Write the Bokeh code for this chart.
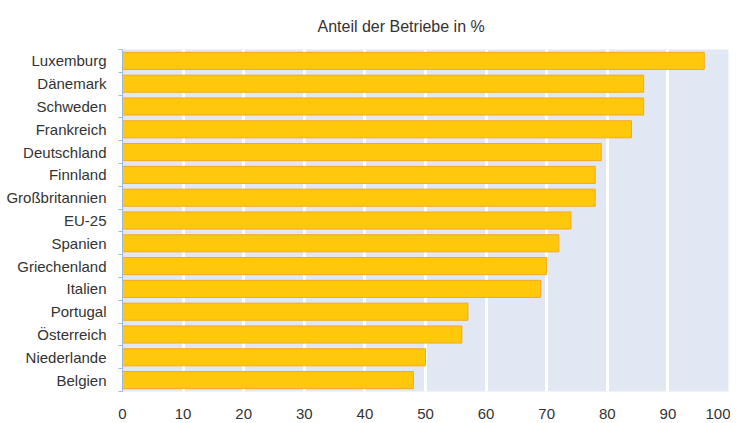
from bokeh.plotting import figure
from bokeh.models import Range1d, FixedTicker, Title
from bokeh.embed import file_html
from bokeh.resources import INLINE

categories = ["Luxemburg", "Dänemark", "Schweden", "Frankreich", "Deutschland",
              "Finnland", "Großbritannien", "EU-25", "Spanien", "Griechenland",
              "Italien", "Portugal", "Österreich", "Niederlande", "Belgien"]
values = [96, 86, 86, 84, 79, 78, 78, 74, 72, 70, 69, 57, 56, 50, 48]
x_ticks = [0, 10, 20, 30, 40, 50, 60, 70, 80, 90, 100]
title_text = "Anteil der Betriebe in %"

n = len(categories)
ys = [n - i - 0.5 for i in range(n)]
bounds = list(range(n + 1))

FONT = "Liberation Sans"
TXT = "#333333"

p = figure(width=730, height=423, output_backend="svg", toolbar_location=None,
           x_range=Range1d(0, 100), y_range=Range1d(0, n),
           min_border_left=122, min_border_right=2, min_border_top=48,
           min_border_bottom=32)
p.title = Title(text=title_text, align="left", offset=195, standoff=30,
                text_font=FONT, text_font_size="16px", text_font_style="normal",
                text_color=TXT)
p.background_fill_color = "#E1E8F4"
p.border_fill_color = "white"
p.outline_line_color = None

p.hbar(y=ys, right=values, left=0, height=0.75,
       fill_color="#FFC80B", line_color="#F6A623", line_width=1)

p.xgrid.ticker = FixedTicker(ticks=x_ticks)
p.xgrid.grid_line_color = "white"
p.xgrid.grid_line_width = 3
p.ygrid.grid_line_color = None

p.xaxis.ticker = FixedTicker(ticks=x_ticks)
p.xaxis.axis_line_color = None
p.xaxis.major_tick_line_color = None
p.xaxis.major_tick_out = 0
p.xaxis.minor_tick_line_color = None
p.xaxis.major_label_standoff = 17
p.xaxis.major_label_text_font = FONT
p.xaxis.major_label_text_font_size = "15px"
p.xaxis.major_label_text_color = TXT

p.yaxis.ticker = FixedTicker(ticks=ys, minor_ticks=bounds)
p.yaxis.major_label_overrides = {y: c for y, c in zip(ys, categories)}
p.yaxis.axis_line_color = "#9DB9E0"
p.yaxis.major_tick_line_color = None
p.yaxis.major_tick_out = 0
p.yaxis.minor_tick_line_color = "#9DB9E0"
p.yaxis.minor_tick_in = 0
p.yaxis.minor_tick_out = 4
p.yaxis.major_label_standoff = 12
p.yaxis.major_label_text_align = "right"
p.yaxis.major_label_text_font = FONT
p.yaxis.major_label_text_font_size = "15px"
p.yaxis.major_label_text_color = TXT

open("out.html", "w").write(file_html(p, INLINE))
